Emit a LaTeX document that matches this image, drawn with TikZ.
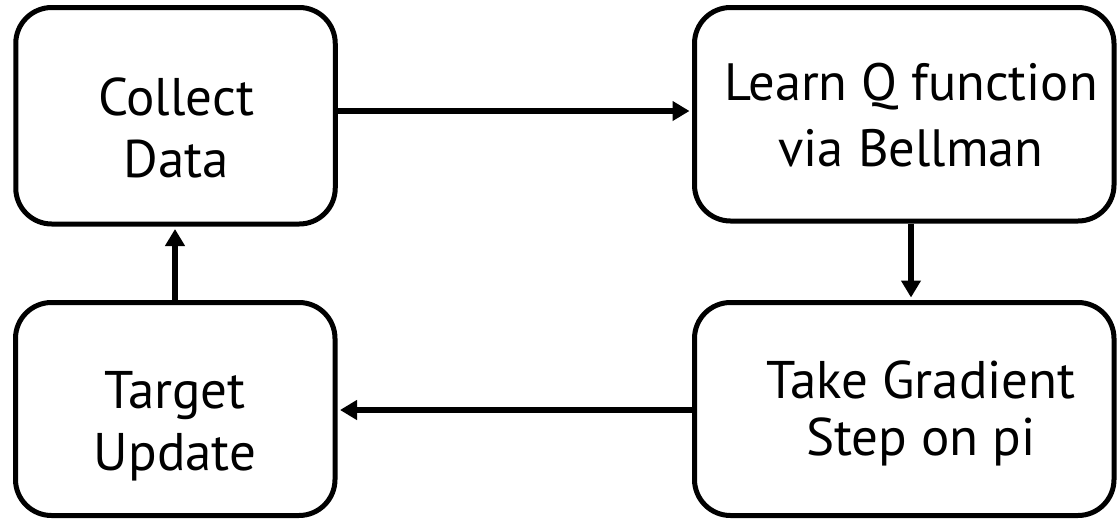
\documentclass[tikz,border=0pt]{standalone}
\usepackage{fontspec}
\setmainfont{PT Sans}
\usetikzlibrary{arrows.meta,calc}
\begin{document}
\begin{tikzpicture}[x=1pt,y=-1pt,
  box/.style={draw=black,line width=5pt,rounded corners=36pt,inner sep=0pt},
  txt/.style={align=center,inner sep=0pt,font=\fontsize{53}{62}\selectfont},
  txtb/.style={align=center,inner sep=0pt,font=\fontsize{52.5}{66}\selectfont},
  txtc/.style={align=center,inner sep=0pt,font=\fontsize{53}{57}\selectfont},
  arr/.style={line width=5.5pt,shorten >=2.5pt,-{Triangle[length=17pt,width=19pt]}}]
\useasboundingbox (0,0) rectangle (1117,520);
\node[box,minimum width=319.5pt,minimum height=216.5pt] (cd) at (175.5,115.75) {};
\node[box,minimum width=419.5pt,minimum height=213.5pt] (lq) at (904.25,114.25) {};
\node[box,minimum width=319.5pt,minimum height=213pt] (tu) at (175.25,409) {};
\node[box,minimum width=419.5pt,minimum height=213pt] (tg) at (904.25,409) {};
\node[txt] (cdt) at (176,128) {Collect\\Data};
\node[txtb] (lqt) at (911,115) {Learn Q function\\via Bellman};
\node[txt] (tut) at (175,426) {Target\\Update};
\node[txtc] (tgt) at (921,413) {Take Gradient\\Step on pi};
\draw[arr] (cd.east |- 0,111) -- (lq.west |- 0,111);
\draw[arr] (lq.south -| 911,0) -- (tg.north -| 911,0);
\draw[arr] (tg.west |- 0,410) -- (tu.east |- 0,410);
\draw[arr] (tu.north -| 175,0) -- (cd.south -| 175,0);
\end{tikzpicture}
\end{document}
